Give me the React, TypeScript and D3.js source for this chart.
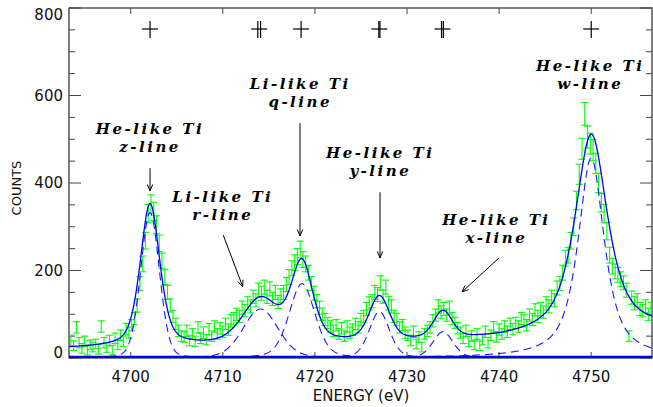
import React from 'react';
import * as d3 from 'd3';

// ---- measured spectrum (bin centre in eV, counts, 1-sigma error) ----
const ENERGY = [
  4693.5, 4693.8, 4694.1, 4694.4, 4694.7, 4695.0, 4695.3, 4695.6, 4695.9, 4696.2,
  4696.5, 4696.8, 4697.1, 4697.4, 4697.7, 4698.0, 4698.3, 4698.6, 4698.9, 4699.2,
  4699.5, 4699.8, 4700.1, 4700.4, 4700.7, 4701.0, 4701.3, 4701.6, 4701.9, 4702.2,
  4702.5, 4702.8, 4703.1, 4703.4, 4703.7, 4704.0, 4704.3, 4704.6, 4704.9, 4705.2,
  4705.5, 4705.8, 4706.1, 4706.4, 4706.7, 4707.0, 4707.3, 4707.6, 4707.9, 4708.2,
  4708.5, 4708.8, 4709.1, 4709.4, 4709.7, 4710.0, 4710.3, 4710.6, 4710.9, 4711.2,
  4711.5, 4711.8, 4712.1, 4712.4, 4712.7, 4713.0, 4713.3, 4713.6, 4713.9, 4714.2,
  4714.5, 4714.8, 4715.1, 4715.4, 4715.7, 4716.0, 4716.3, 4716.6, 4716.9, 4717.2,
  4717.5, 4717.8, 4718.1, 4718.4, 4718.7, 4719.0, 4719.3, 4719.6, 4719.9, 4720.2,
  4720.5, 4720.8, 4721.1, 4721.4, 4721.7, 4722.0, 4722.3, 4722.6, 4722.9, 4723.2,
  4723.5, 4723.8, 4724.1, 4724.4, 4724.7, 4725.0, 4725.3, 4725.6, 4725.9, 4726.2,
  4726.5, 4726.8, 4727.1, 4727.4, 4727.7, 4728.0, 4728.3, 4728.6, 4728.9, 4729.2,
  4729.5, 4729.8, 4730.1, 4730.4, 4730.7, 4731.0, 4731.3, 4731.6, 4731.9, 4732.2,
  4732.5, 4732.8, 4733.1, 4733.4, 4733.7, 4734.0, 4734.3, 4734.6, 4734.9, 4735.2,
  4735.5, 4735.8, 4736.1, 4736.4, 4736.7, 4737.0, 4737.3, 4737.6, 4737.9, 4738.2,
  4738.5, 4738.8, 4739.1, 4739.4, 4739.7, 4740.0, 4740.3, 4740.6, 4740.9, 4741.2,
  4741.5, 4741.8, 4742.1, 4742.4, 4742.7, 4743.0, 4743.3, 4743.6, 4743.9, 4744.2,
  4744.5, 4744.8, 4745.1, 4745.4, 4745.7, 4746.0, 4746.3, 4746.6, 4746.9, 4747.2,
  4747.5, 4747.8, 4748.1, 4748.4, 4748.7, 4749.0, 4749.3, 4749.6, 4749.9, 4750.2,
  4750.5, 4750.8, 4751.1, 4751.4, 4751.7, 4752.0, 4752.3, 4752.6, 4752.9, 4753.2,
  4753.5, 4753.8, 4754.1, 4754.4, 4754.7, 4755.0, 4755.3, 4755.6, 4755.9, 4756.2,
  4756.5,
];

const COUNTS = [
  // left continuum
  40, 28, 70, 35, 22, 38, 18, 30, 25, 32, 20, 72, 35, 24, 40, 18, 45, 30, 52, 38, 66, 58, 75,
  // z
  90, 120, 170, 215, 268, 330, 352, 335, 305, 262, 222, 185, 150, 120, 95, 78, 62, 50,
  // z - r valley
  48, 62, 40, 55, 38, 70, 45, 58, 42, 66, 50, 72, 55, 68, 60, 78, 65, 85, 90, 100, 95, 115,
  // r, q
  108, 125, 118, 140, 132, 155, 148, 162, 140, 158, 135, 150, 128, 142, 150, 168, 185, 205, 218, 232,
  248, 225, 215, 195, 170, 148, 130, 115, 100, 88,
  // q - y valley
  80, 72, 62, 75, 55, 68, 50, 72, 58, 65, 78,
  // y
  70, 88, 95, 112, 125, 130, 150, 145, 172, 140, 162, 125, 118, 95, 88, 70, 75, 58,
  // y - x valley
  52, 40, 60, 32, 48, 25, 55, 62,
  // x
  70, 85, 98, 118, 105, 112, 98, 115, 90, 80, 68,
  // x - w valley
  58, 45, 62, 38, 50, 30, 55, 28, 42, 60, 35, 52, 70, 48, 65, 55, 72, 60, 78, 66,
  80, 72, 90, 85, 75, 98, 88, 110, 95,
  // w
  112, 105, 125, 118, 140, 132, 160, 170, 195, 228, 235, 268, 300, 360, 420, 478, 558, 505, 490, 475,
  445, 400, 355, 330, 290, 235, 210, 198,
  // right wing
  190, 180, 172, 155, 50, 138, 125, 132, 112, 108, 118, 100, 112,
];

const ERRORS = [
  12, 11, 13, 12, 11, 12, 11, 11, 11, 11, 11, 13, 12, 11, 12, 11, 12, 11, 12, 12, 13, 13, 13,
  14, 15, 16, 18, 19, 21, 21, 21, 20, 19, 18, 17, 16, 15, 14, 13, 13, 12,
  12, 13, 12, 12, 12, 13, 12, 13, 12, 13, 12, 13, 12, 13, 13, 13, 13, 14, 14, 14, 14, 15,
  14, 15, 15, 15, 15, 16, 16, 16, 15, 16, 15, 16, 15, 16, 16, 16, 17, 17, 18, 18,
  19, 18, 18, 17, 16, 16, 15, 15, 14, 14,
  13, 13, 13, 13, 12, 13, 12, 13, 13, 13, 13,
  13, 14, 14, 15, 15, 15, 16, 16, 16, 15, 16, 15, 15, 14, 14, 13, 13, 13,
  12, 12, 13, 11, 12, 11, 12, 13,
  13, 14, 14, 15, 14, 15, 14, 15, 14, 13, 13,
  13, 12, 13, 12, 12, 11, 12, 11, 12, 13, 12, 12, 13, 12, 13, 12, 13, 13, 13, 13,
  13, 13, 14, 14, 13, 14, 14, 14, 14,
  15, 14, 15, 15, 15, 15, 16, 16, 17, 18, 18, 19, 20, 21, 23, 24, 26, 25, 24, 24,
  23, 22, 21, 21, 20, 18, 18, 17,
  17, 17, 16, 16, 12, 15, 15, 15, 15, 14, 15, 14, 15,
];

// ---- fitted lines ----
const LINE_CENTER = [4702.1, 4714.1, 4718.6, 4727.0, 4733.9, 4750.0];
// total fit (solid)
const FIT_AMP = [325, 100, 180, 100, 62, 456];
const FIT_FWHM = [2.5, 4.6, 2.8, 2.6, 2.4, 4.2];
const FIT_ETA = [0.45, 0.3, 0.4, 0.3, 0.3, 0.75];
const BG_E = [4693.3, 4740, 4756.6];
const BG_C = [22, 42, 64];
// individual components (dashed)
const COMP_AMP = [332, 112, 170, 106, 60, 457];
const COMP_FWHM = [2.4, 4.5, 3.3, 2.6, 2.6, 3.4];
const COMP_ETA = [0.15, 0.2, 0.3, 0.3, 0.3, 0.8];

// ---- reference line positions drawn at the top ----
const MARK_E = [4702.1, 4713.95, 4718.5, 4727.0, 4733.85, 4750.0];
const MARK_SPLIT = [0, 0.3, 0, 0.12, 0.2, 0];

// ---- annotations ----
const LABEL_LINE1 = ['He-like Ti', 'Li-like Ti', 'Li-like Ti', 'He-like Ti', 'He-like Ti', 'He-like Ti'];
const LABEL_LINE2 = ['z-line', 'r-line', 'q-line', 'y-line', 'x-line', 'w-line'];
const LABEL_E = [4702.1, 4710.0, 4718.4, 4727.1, 4739.7, 4749.9];
const LABEL_C = [511, 356, 616, 457, 305, 655];
const ARROW_E0 = [4702.1, 4710.05, 4718.38, 4727.07, 4740.0];
const ARROW_C0 = [434, 281, 537, 379, 229];
const ARROW_E1 = [4702.1, 4712.16, 4718.38, 4727.07, 4735.97];
const ARROW_C1 = [382, 163, 279, 229, 151];

const X_TICKS = [4700, 4710, 4720, 4730, 4740, 4750];
const Y_TICKS = [0, 200, 400, 600, 800];

const W = 653, H = 407;
const X0 = 69, X1 = 652, Y0 = 358, Y1 = 8;

function pv(e: number, c: number, a: number, f: number, eta: number) {
  const u = (e - c) / f;
  const lor = 1 / (1 + 4 * u * u);
  const gau = Math.exp(-4 * Math.LN2 * u * u);
  return a * (eta * lor + (1 - eta) * gau);
}

export default function App() {
  const x = d3.scaleLinear().domain([4693.3, 4756.6]).range([X0, X1]);
  const y = d3.scaleLinear().domain([0, 800]).range([Y0, Y1]);
  const bg = d3.scaleLinear().domain(BG_E).range(BG_C);

  const grid = d3.range(4693.3, 4756.65, 0.05);
  const line = d3.line<[number, number]>().x(d => x(d[0])).y(d => y(d[1]));

  const total = grid.map(e => [e, bg(e) + LINE_CENTER.reduce((s, c, i) =>
    s + pv(e, c, FIT_AMP[i], FIT_FWHM[i], FIT_ETA[i]), 0)] as [number, number]);
  const comps = LINE_CENTER.map((c, i) =>
    grid.map(e => [e, pv(e, c, COMP_AMP[i], COMP_FWHM[i], COMP_ETA[i])] as [number, number]));

  const minorY = d3.range(0, 801, 50).filter(v => v % 200 !== 0);
  const serif = { fontFamily: '"DejaVu Serif", serif', fontWeight: 'bold', fontStyle: 'italic', fontSize: 15, letterSpacing: 2.5 };
  const sans = { fontFamily: '"DejaVu Sans", sans-serif', fontSize: 15 };

  return (
    <svg width={W} height={H} style={{ position: 'absolute', left: 0, top: 0, background: '#fff' }}>
      <defs>
        <clipPath id="plot"><rect x={X0} y={Y1} width={X1 - X0} height={Y0 - Y1} /></clipPath>
      </defs>

      {/* frame and ticks */}
      <rect x={X0} y={Y1} width={X1 - X0} height={Y0 - Y1} fill="none" stroke="#000" strokeWidth={1} />
      {X_TICKS.map(t => (
        <g key={t} stroke="#444">
          <line x1={x(t)} x2={x(t)} y1={Y0} y2={Y0 - 6} />
          <line x1={x(t)} x2={x(t)} y1={Y1} y2={Y1 + 6} />
        </g>
      ))}
      {Y_TICKS.map(t => (
        <g key={t} stroke="#444">
          <line x1={X0} x2={X0 + 12} y1={y(t)} y2={y(t)} />
          <line x1={X1} x2={X1 - 12} y1={y(t)} y2={y(t)} />
        </g>
      ))}
      {minorY.map(t => (
        <g key={t} stroke="#444">
          <line x1={X0} x2={X0 + 6} y1={y(t)} y2={y(t)} />
          <line x1={X1} x2={X1 - 6} y1={y(t)} y2={y(t)} />
        </g>
      ))}
      {X_TICKS.map(t => (
        <text key={t} x={x(t)} y={382} textAnchor="middle" style={sans} fill="#111">{t}</text>
      ))}
      {Y_TICKS.map(t => (
        <text key={t} x={63} y={Math.min(353, Math.max(15, y(t))) + 5.3} textAnchor="end" style={sans} fill="#111">{t}</text>
      ))}
      <text x={361} y={401} textAnchor="middle" style={sans} fill="#111">ENERGY (eV)</text>
      <text transform="translate(21,188) rotate(-90)" textAnchor="middle" style={{ ...sans, fontSize: 13 }} fill="#111">COUNTS</text>

      <g clipPath="url(#plot)">
        {/* data with error bars */}
        <g stroke="#00ff00" strokeWidth={1.1}>
          {COUNTS.map((c, i) => {
            const px = x(ENERGY[i]);
            const lo = y(c - ERRORS[i]), hi = y(c + ERRORS[i]);
            return (
              <g key={i}>
                <line x1={px} x2={px} y1={lo} y2={hi} />
                <line x1={px - 3.5} x2={px + 3.5} y1={lo} y2={lo} />
                <line x1={px - 3.5} x2={px + 3.5} y1={hi} y2={hi} />
              </g>
            );
          })}
        </g>
        {comps.map((pts, i) => (
          <path key={i} d={line(pts) || ''} fill="none" stroke="#1a1aff" strokeWidth={1.1} strokeDasharray="8,5" />
        ))}
        <path d={line(total) || ''} fill="none" stroke="#0000ff" strokeWidth={1.3} />
        <line x1={X0} x2={X1} y1={y(0) - 1} y2={y(0) - 1} stroke="#0000ff" strokeWidth={2.5} />
      </g>

      {/* line identifications */}
      <g stroke="#000" strokeWidth={1.2}>
        {MARK_E.map((e, i) => (
          <g key={i}>
            <line x1={x(e) - 8} x2={x(e) + 8} y1={29} y2={29} />
            <line x1={x(e - MARK_SPLIT[i] / 2)} x2={x(e - MARK_SPLIT[i] / 2)} y1={21} y2={38} />
            {MARK_SPLIT[i] > 0 && <line x1={x(e + MARK_SPLIT[i] / 2)} x2={x(e + MARK_SPLIT[i] / 2)} y1={21} y2={38} />}
          </g>
        ))}
      </g>

      {LABEL_LINE1.map((t, i) => (
        <g key={i}>
          <text x={x(LABEL_E[i])} y={y(LABEL_C[i])} textAnchor="middle" style={serif} fill="#000">{t}</text>
          <text x={x(LABEL_E[i])} y={y(LABEL_C[i]) + 18} textAnchor="middle" style={serif} fill="#000">{LABEL_LINE2[i]}</text>
        </g>
      ))}

      <g stroke="#000" strokeWidth={1} fill="none">
        {ARROW_E0.map((e, i) => {
          const ax = x(e), ay = y(ARROW_C0[i]);
          const bx = x(ARROW_E1[i]), by = y(ARROW_C1[i]);
          const ang = Math.atan2(by - ay, bx - ax);
          const hl = 7, ha = 0.4;
          const h1 = [bx - hl * Math.cos(ang - ha), by - hl * Math.sin(ang - ha)];
          const h2 = [bx - hl * Math.cos(ang + ha), by - hl * Math.sin(ang + ha)];
          return (
            <g key={i}>
              <line x1={ax} y1={ay} x2={bx} y2={by} />
              <polyline points={`${h1[0]},${h1[1]} ${bx},${by} ${h2[0]},${h2[1]}`} />
            </g>
          );
        })}
      </g>
    </svg>
  );
}
